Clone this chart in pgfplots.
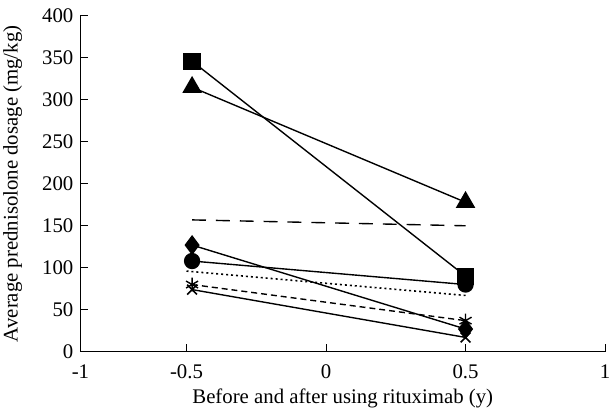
\documentclass[border=0pt]{standalone}
\usepackage{pgfplots}
\pgfplotsset{compat=1.18}
\usepackage{fontspec}
\setmainfont{Liberation Serif}
\begin{document}
\fontsize{21}{25}\selectfont
\begin{tikzpicture}[x=1bp,y=1bp]
\begin{axis}[
  name=ax,
  width=528bp, height=338bp, scale only axis,
  xmin=-0.88, xmax=1, ymin=0, ymax=400,
  axis lines=left,
  axis line style={-, line width=1.1bp},
  xtick={-0.88,-0.5,0,0.5,1},
  xticklabels={-1,-0.5,0,0.5,1},
  ytick={0,50,...,400},
  tick align=inside,
  major tick length=8bp,
  tick style={line width=1bp, black},
  /pgf/number format/assume math mode=true,
  ticklabel style={font=\fontsize{21}{25}\selectfont},
  xticklabel style={yshift=-6bp},
  xlabel={Before and after using rituximab (y)},
  ylabel={Average prednisolone dosage (mg/kg)},
  label style={font=\fontsize{21}{25}\selectfont},
  xlabel style={yshift=4bp},
  ylabel style={yshift=6bp},
  clip=false,
  every axis plot/.append style={black, line width=1.4bp},
]
\addplot[mark=square*, mark size=8bp] coordinates {(-0.48,346) (0.5,90)};
\addplot[mark=triangle*, mark size=10bp] coordinates {(-0.48,315) (0.5,178)};
\addplot[dashed, dash pattern=on 14bp off 10bp, no marks] coordinates {(-0.48,157) (0.5,150)};
\addplot[mark=diamond*, mark size=9bp] coordinates {(-0.48,127) (0.5,27)};
\addplot[mark=*, mark size=7.5bp] coordinates {(-0.48,108) (0.5,80)};
\addplot[dotted, dash pattern=on 2bp off 3bp, line width=1.6bp, no marks] coordinates {(-0.5,96) (0.5,67)};
\addplot[dash pattern=on 6bp off 4bp, mark=asterisk, mark size=7bp, mark options={solid, line width=1.4bp}] coordinates {(-0.48,80) (0.5,37)};
\addplot[mark=x, mark size=7bp, mark options={line width=1.6bp}] coordinates {(-0.48,74) (0.5,17)};
\end{axis}
\pgfresetboundingbox
\path[use as bounding box] ([shift={(-81bp,-56bp)}]ax.south west) rectangle ([shift={(7bp,16bp)}]ax.north east);
\end{tikzpicture}
\end{document}
